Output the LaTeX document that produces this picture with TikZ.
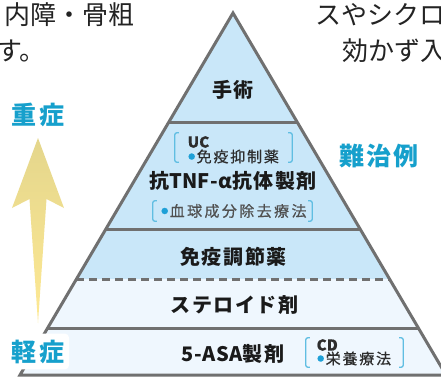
\documentclass[tikz,border=0pt]{standalone}
\usepackage{fontspec}
\newfontfamily\jp{Noto Sans CJK JP}
\usetikzlibrary{calc}
\definecolor{edgegray}{RGB}{112,112,112}
\definecolor{upfill}{RGB}{201,231,249}
\definecolor{lowfill}{RGB}{239,247,254}
\definecolor{lblblue}{RGB}{22,160,204}
\definecolor{brkblue}{RGB}{96,190,226}
\definecolor{dotblue}{RGB}{30,160,215}
\definecolor{maintext}{RGB}{26,26,26}
\definecolor{subtext}{RGB}{45,45,45}
\definecolor{subgray}{RGB}{80,80,80}
\definecolor{bodytext}{RGB}{35,35,35}
\definecolor{arrowtop}{RGB}{228,214,140}
\definecolor{arrowbot}{RGB}{254,233,148}
\newcommand\lat[1]{{\addfontfeature{LetterSpace=2}#1}}
\newcommand\sublat[1]{{\bfseries\addfontfeature{LetterSpace=1}#1}}
\newcommand\bdot{{\color{dotblue}\raisebox{3pt}{\fontsize{7}{7}\selectfont ●}}\hspace{1.5pt}}
\tikzset{
  edge/.style={draw=edgegray, line width=3pt, line join=miter},
  maintxt/.style={inner sep=0pt, text=maintext,
    font={\fontsize{20}{20}\jp\bfseries\addfontfeature{LetterSpace=8}}},
  subtxt/.style={inner sep=0pt, anchor=west, text=subtext,
    font={\fontsize{15}{15}\jp\addfontfeature{LetterSpace=12,FakeBold=0.6}}},
  lbl/.style={inner sep=0pt, text=lblblue,
    font={\fontsize{25}{25}\jp\bfseries\addfontfeature{LetterSpace=8}}},
  bodytxt/.style={inner sep=0pt, anchor=west, text=bodytext,
    font={\fontsize{26}{26}\jp}},
  brbox/.style={inner sep=0pt, draw=none},
  brk/.style={draw=brkblue, line width=1.3pt, rounded corners=2pt}
}
\newcommand\bracketpair[1]{%
  \draw[brk] ([xshift=4pt]#1.north west) -- (#1.north west) -- (#1.south west) -- ([xshift=4pt]#1.south west);
  \draw[brk] ([xshift=-4pt]#1.north east) -- (#1.north east) -- (#1.south east) -- ([xshift=-4pt]#1.south east);
}
\begin{document}
\begin{tikzpicture}[x=1pt,y=-1pt]
\useasboundingbox (0,0) rectangle (441,380);
\fill[white] (0,0) rectangle (441,380);

% background body text (cut at the picture's edges, as in the reference)
\node[bodytxt] (t1) at (4,15) {内障・骨粗};
\node[bodytxt] (t2) at (315,15) {スやシクロ};
\node[bodytxt] (t3) at (-4,51) {す。};
\node[bodytxt] (t4) at (342,51) {効かず入};

% pyramid geometry
\coordinate (A) at (233,13);
\coordinate (BL) at (20,375);
\coordinate (BR) at (446,375);
\coordinate (L1) at ($(A)!0.3011!(BL)$);
\coordinate (R1) at ($(A)!0.3011!(BR)$);
\coordinate (L2) at ($(A)!0.5994!(BL)$);
\coordinate (R2) at ($(A)!0.5994!(BR)$);
\coordinate (L3) at ($(A)!0.7348!(BL)$);
\coordinate (R3) at ($(A)!0.7348!(BR)$);
\coordinate (L4) at ($(A)!0.8702!(BL)$);
\coordinate (R4) at ($(A)!0.8702!(BR)$);

\fill[upfill] (A) -- (L3) -- (R3) -- cycle;
\fill[lowfill] (L3) -- (BL) -- (BR) -- (R3) -- cycle;
\draw[edge] (L1) -- (R1);
\draw[edge] (L2) -- (R2);
\draw[edge, dash pattern=on 8pt off 5pt] (L3) -- (R3);
\draw[edge] (L4) -- (R4);
\draw[edge] (A) -- (BL) -- (BR) -- cycle;

% layer texts
\node[maintxt] (surg) at (233,89.5) {手術};
\node[maintxt] (tnf) at (233,181) {抗\lat{TNF-α}抗体製剤};
\node[maintxt] (imm) at (233.5,257) {免疫調節薬};
\node[maintxt] (ster) at (234.5,305) {ステロイド剤};
\node[maintxt] (asa) at (233,353.5) {\lat{5-ASA}製剤};

% bracket boxes
\node[brbox, minimum width=117pt, minimum height=29pt] (ucb) at (233.5,147.5) {};
\bracketpair{ucb}
\node[subtxt] (uc) at (187.5,142) {\sublat{UC}};
\node[subtxt] (ucl) at (188,156.5) {\bdot 免疫抑制薬};

\node[brbox, minimum width=159pt, minimum height=20pt] (bldb) at (232.5,211) {};
\bracketpair{bldb}
\node[subtxt, text=subgray, font={\fontsize{15}{15}\jp\addfontfeature{LetterSpace=16,FakeBold=0.6}}] (bld) at (161,211) {\bdot 血球成分除去療法};

\node[brbox, minimum width=97pt, minimum height=29pt] (cdb) at (354.5,352.5) {};
\bracketpair{cdb}
\node[subtxt] (cd) at (316.5,345) {\sublat{CD}};
\node[subtxt] (cdl) at (317,358.5) {\bdot 栄養療法};

% severity arrow
\coordinate (tip) at (38,138);
\coordinate (hr) at (64,208);
\coordinate (nr) at (46.5,199);
\coordinate (tail) at (38,323);
\coordinate (nl) at (29.5,199);
\coordinate (hl) at (12,208);
\shade[top color=arrowtop, bottom color=arrowbot]
  (tip) -- (hr) -- (nr) -- (tail) -- (nl) -- (hl) -- cycle;

% labels
\node[lbl] (hard) at (379,156) {難治例};
\node[lbl] (sev) at (38,114.5) {重症};
\node[lbl, fill=white, inner xsep=5pt, inner ysep=6pt, rounded corners=4pt] (mild) at (38,351.5) {軽症};
\end{tikzpicture}
\end{document}
